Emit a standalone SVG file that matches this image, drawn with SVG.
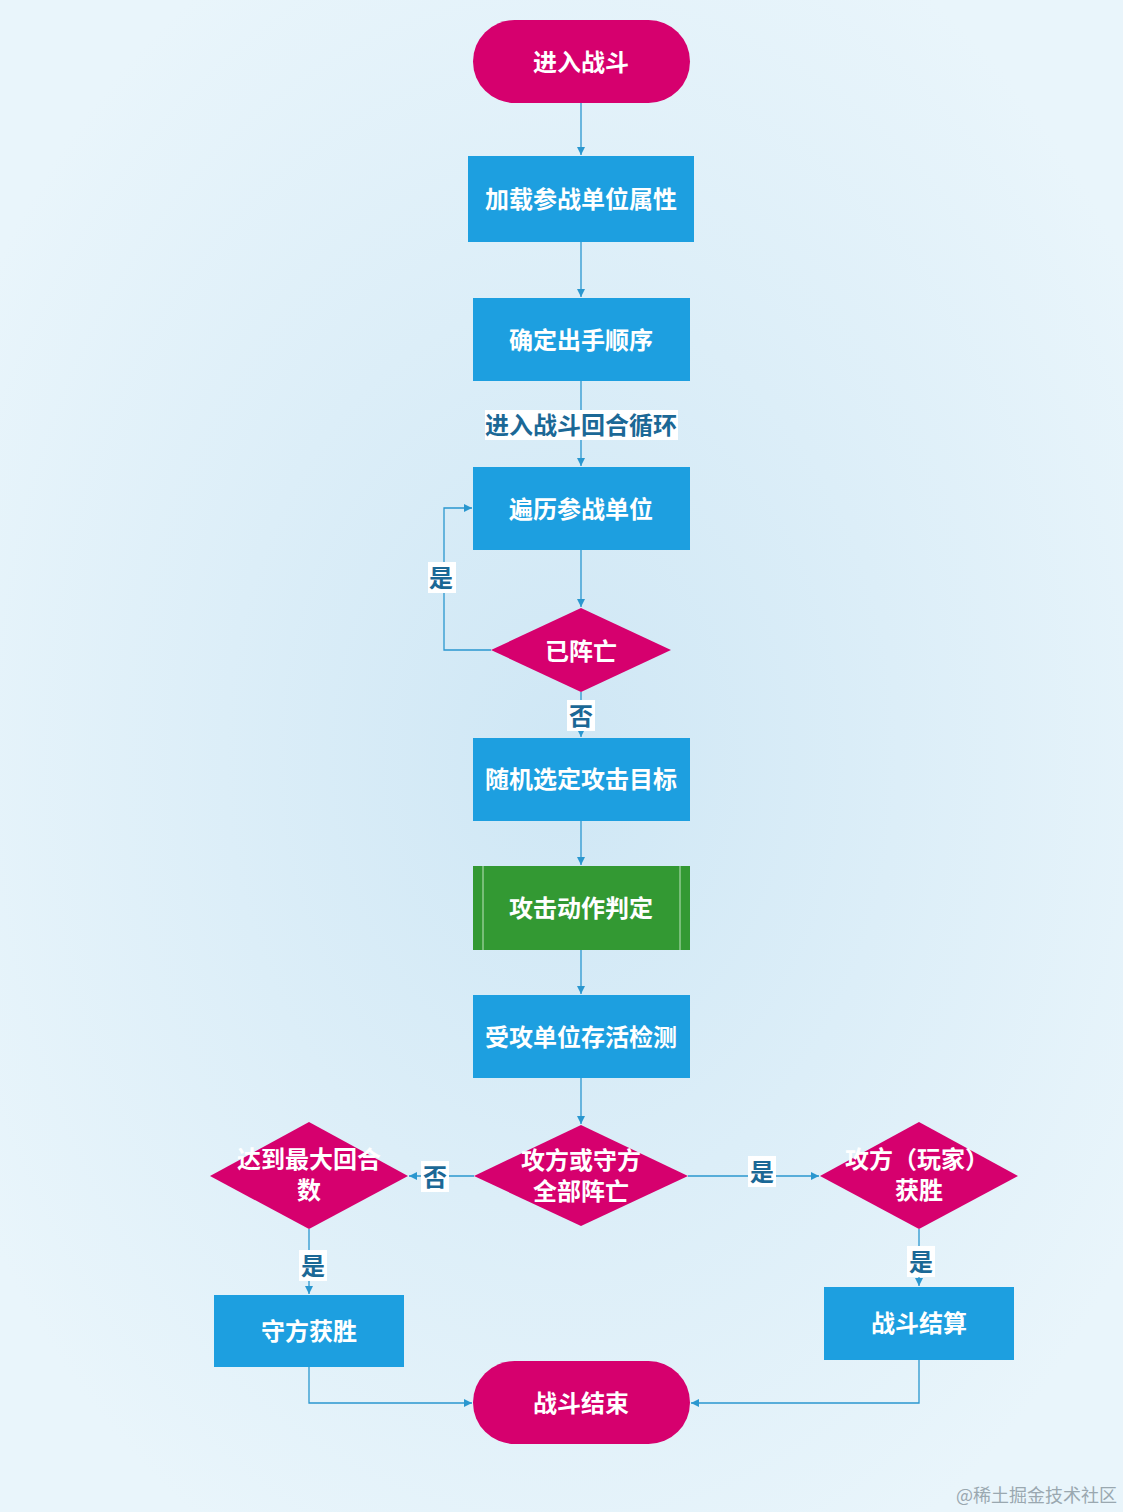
<svg xmlns="http://www.w3.org/2000/svg" width="1123" height="1512" viewBox="0 0 1123 1512">
<defs>
<radialGradient id="bg" cx="50%" cy="50%" r="60%">
<stop offset="0" stop-color="#cfe7f5"/>
<stop offset="1" stop-color="#e9f5fb"/>
</radialGradient>
<marker id="arr" markerWidth="10" markerHeight="10" refX="9" refY="5" orient="auto" markerUnits="userSpaceOnUse">
<path d="M1,1 L9,5 L1,9 Z" fill="#2a97cf"/>
</marker>
<style>
.term{fill:#d6006e}
.proc{fill:#1d9fe0}
.dec{fill:#d6006e}
.pre{fill:#339933}
.nt{font-family:"Liberation Sans","Noto Sans CJK SC",sans-serif;font-size:24px;font-weight:bold;fill:#ffffff;text-anchor:middle;dominant-baseline:central}
.ln{fill:none;stroke:#2a97cf;stroke-width:1.3;marker-end:url(#arr)}
.lbg{fill:#ffffff}
.lt{font-family:"Liberation Sans","Noto Sans CJK SC",sans-serif;font-size:24px;font-weight:bold;fill:#1b6896;text-anchor:middle;dominant-baseline:central}
.wm{font-family:"Noto Sans CJK SC",serif;font-size:18px;fill:#9aa8b0;text-anchor:end}
</style>
</defs>
<rect width="1123" height="1512" fill="url(#bg)"/>

<g id="connectors">
<path class="ln" d="M581,103 V155"/>
<path class="ln" d="M581,242 V297"/>
<path class="ln" d="M581,381 V466"/>
<path class="ln" d="M581,550 V607"/>
<path class="ln" d="M491,650 H444 V508 H472"/>
<path class="ln" d="M581,692 V737"/>
<path class="ln" d="M581,821 V865"/>
<path class="ln" d="M581,950 V994"/>
<path class="ln" d="M581,1078 V1124"/>
<path class="ln" d="M474,1176 H409"/>
<path class="ln" d="M688,1176 H819"/>
<path class="ln" d="M309,1229 V1294"/>
<path class="ln" d="M919,1229 V1286"/>
<path class="ln" d="M309,1367 V1403 H472"/>
<path class="ln" d="M919,1360 V1403 H691"/>
<g id="labels">
<rect class="lbg" x="485" y="410" width="193" height="30"/>
<text class="lt" x="581" y="425">进入战斗回合循环</text>
<rect class="lbg" x="428" y="562" width="28" height="31"/>
<text class="lt" x="441" y="578">是</text>
<rect class="lbg" x="567" y="700" width="28" height="31"/>
<text class="lt" x="581" y="716">否</text>
<rect class="lbg" x="421" y="1161" width="28" height="31"/>
<text class="lt" x="435" y="1177">否</text>
<rect class="lbg" x="748" y="1156" width="28" height="31"/>
<text class="lt" x="762" y="1172">是</text>
<rect class="lbg" x="299" y="1250" width="28" height="31"/>
<text class="lt" x="313" y="1266">是</text>
<rect class="lbg" x="907" y="1246" width="28" height="31"/>
<text class="lt" x="921" y="1262">是</text>
</g>
</g>

<g id="start">
<rect class="term" x="473" y="20" width="217" height="83" rx="41.5"/>
<text class="nt" x="581" y="62">进入战斗</text>
</g>
<g id="load">
<rect class="proc" x="468" y="156" width="226" height="86"/>
<text class="nt" x="581" y="199">加载参战单位属性</text>
</g>
<g id="order">
<rect class="proc" x="473" y="298" width="217" height="83"/>
<text class="nt" x="581" y="340">确定出手顺序</text>
</g>
<g id="iterate">
<rect class="proc" x="473" y="467" width="217" height="83"/>
<text class="nt" x="581" y="509">遍历参战单位</text>
</g>
<g id="dead">
<polygon class="dec" points="581,608 671,650 581,692 491,650"/>
<text class="nt" x="581" y="651">已阵亡</text>
</g>
<g id="target">
<rect class="proc" x="473" y="738" width="217" height="83"/>
<text class="nt" x="581" y="779">随机选定攻击目标</text>
</g>
<g id="attack">
<rect class="pre" x="473" y="866" width="217" height="84"/>
<line x1="483" y1="866" x2="483" y2="950" stroke="#bfe3bf" stroke-width="1"/>
<line x1="680" y1="866" x2="680" y2="950" stroke="#bfe3bf" stroke-width="1"/>
<text class="nt" x="581" y="908">攻击动作判定</text>
</g>
<g id="survive">
<rect class="proc" x="473" y="995" width="217" height="83"/>
<text class="nt" x="581" y="1037">受攻单位存活检测</text>
</g>
<g id="alldead">
<polygon class="dec" points="581,1125 688,1176 581,1226 474,1176"/>
<text class="nt" x="581" y="1160">攻方或守方</text>
<text class="nt" x="581" y="1191">全部阵亡</text>
</g>
<g id="maxround">
<polygon class="dec" points="309,1122 408,1176 309,1229 210,1176"/>
<text class="nt" x="309" y="1159">达到最大回合</text>
<text class="nt" x="309" y="1190">数</text>
</g>
<g id="playerwin">
<polygon class="dec" points="919,1122 1018,1176 919,1229 820,1176"/>
<text class="nt" x="917" y="1159">攻方（玩家）</text>
<text class="nt" x="919" y="1190">获胜</text>
</g>
<g id="defwin">
<rect class="proc" x="214" y="1295" width="190" height="72"/>
<text class="nt" x="309" y="1331">守方获胜</text>
</g>
<g id="settle">
<rect class="proc" x="824" y="1287" width="190" height="73"/>
<text class="nt" x="919" y="1323">战斗结算</text>
</g>
<g id="end">
<rect class="term" x="473" y="1361" width="217" height="83" rx="41.5"/>
<text class="nt" x="581" y="1403">战斗结束</text>
</g>
<text class="wm" x="1117" y="1502">@稀土掘金技术社区</text>
</svg>
